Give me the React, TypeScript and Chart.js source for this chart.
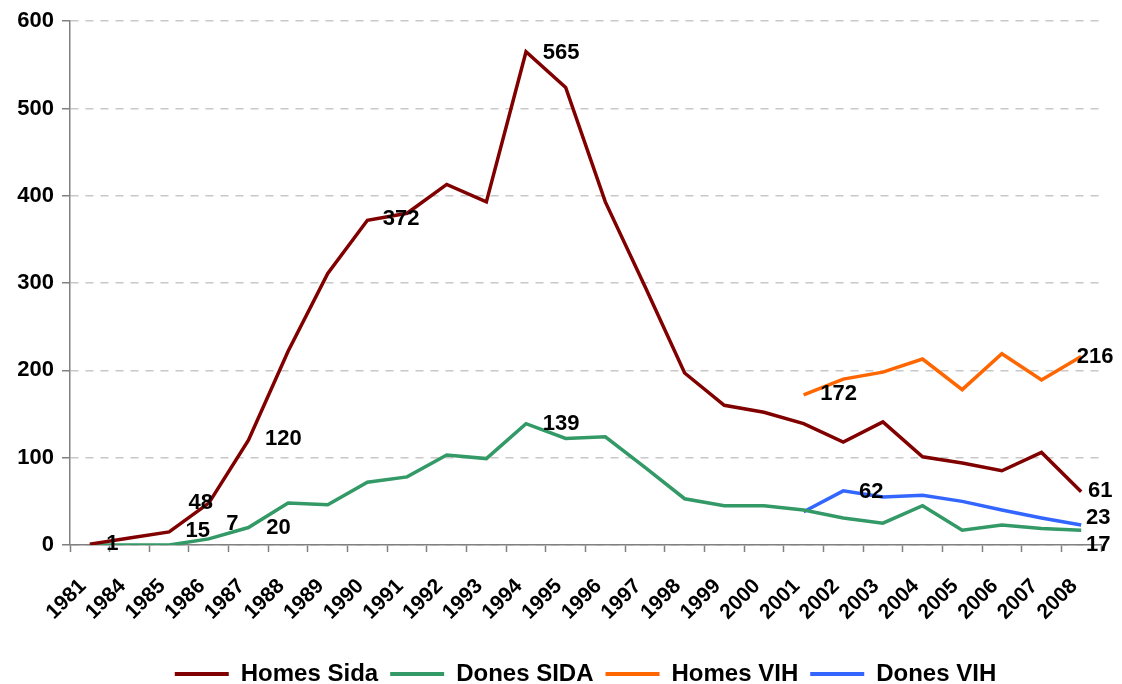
import React, { useEffect, useRef } from "react";
import { Chart, registerables } from "chart.js";

Chart.register(...registerables);

const years = [
  "1981", "1984", "1985", "1986", "1987", "1988", "1989", "1990", "1991", "1992",
  "1993", "1994", "1995", "1996", "1997", "1998", "1999", "2000", "2001", "2002",
  "2003", "2004", "2005", "2006", "2007", "2008",
];

const homesSida = [1, 8, 15, 48, 120, 222, 311, 372, 380, 413, 393, 565, 524, 393, 296, 197, 160, 152, 139, 118, 141, 101, 94, 85, 106, 61];
const donesSida = [0, 0, 0, 7, 20, 48, 46, 72, 78, 103, 99, 139, 122, 124, 89, 53, 45, 45, 40, 31, 25, 45, 17, 23, 19, 17];
const homesVih = [null, null, null, null, null, null, null, null, null, null, null, null, null, null, null, null, null, null, 172, 190, 198, 213, 178, 219, 189, 216];
const donesVih = [null, null, null, null, null, null, null, null, null, null, null, null, null, null, null, null, null, null, 38, 62, 55, 57, 50, 40, 31, 23];

const seriesNames = ["Homes Sida", "Dones SIDA", "Homes VIH", "Dones VIH"];
const seriesColors = ["#800000", "#339966", "#ff6600", "#3366ff"];
const yTicks = [0, 100, 200, 300, 400, 500, 600];

// value labels: series index, point index, text, and their offset from the point
const labelSeries = [0, 0, 1, 1, 1, 0, 0, 0, 1, 2, 3, 2, 0, 3, 1];
const labelIndex = [1, 3, 3, 4, 4, 4, 8, 11, 11, 18, 19, 25, 25, 25, 25];
const labelText = ["1", "48", "15", "7", "20", "120", "372", "565", "139", "172", "62", "216", "61", "23", "17"];
const labelDx = [-17, -8, -11, -16, 30, 35, -6, 35, 35, 35, 28, 14, 19, 17, 17];
const labelDy = [6, 0, -8, -4, 0, -1, 6, 1, 0, -1, 1, 1, -1, -7, 15];

const FONT = "'Liberation Sans', Arial, sans-serif";

const valueLabelPlugin = {
  id: "valueLabels",
  afterDatasetsDraw(chart: any) {
    const ctx = chart.ctx;
    ctx.save();
    ctx.font = `bold 22px ${FONT}`;
    ctx.fillStyle = "#000";
    ctx.textAlign = "center";
    ctx.textBaseline = "middle";
    for (let i = 0; i < labelText.length; i++) {
      const meta = chart.getDatasetMeta(labelSeries[i]);
      const pt = meta.data[labelIndex[i]];
      if (!pt) continue;
      ctx.fillText(labelText[i], pt.x + labelDx[i], pt.y + labelDy[i]);
    }
    ctx.restore();
  },
};

export default function App() {
  const ref = useRef<HTMLCanvasElement>(null);

  useEffect(() => {
    Chart.defaults.font.family = FONT;
    const seriesData = [homesSida, donesSida, homesVih, donesVih];
    const chart = new Chart(ref.current as HTMLCanvasElement, {
      type: "line",
      data: {
        labels: years,
        datasets: seriesData.map((d, i) => ({
          label: seriesNames[i],
          data: d as any,
          borderColor: seriesColors[i],
          backgroundColor: seriesColors[i],
          borderWidth: 3.5,
          pointRadius: 0,
          pointHoverRadius: 0,
          tension: 0,
          fill: false,
          spanGaps: false,
        })),
      },
      options: {
        animation: false,
        responsive: false,
        layout: { padding: { top: 20, right: 21, left: 0, bottom: 0 } },
        plugins: {
          tooltip: { enabled: false },
          legend: {
            position: "bottom",
            fullSize: false,
            labels: {
              boxWidth: 54,
              boxHeight: 4,
              padding: 12,
              color: "#000",
              font: { size: 24, weight: "bold", family: FONT },
              generateLabels: (c: any) =>
                (Chart.defaults.plugins.legend.labels as any)
                  .generateLabels(c)
                  .map((l: any) => ({ ...l, lineWidth: 0, fillStyle: l.strokeStyle })),
            },
          },
        },
        scales: {
          x: {
            offset: true,
            grid: {
              offset: true,
              drawOnChartArea: false,
              tickLength: 7,
              tickColor: "#808080",
              tickWidth: 1.5,
            },
            border: { color: "#808080", width: 1.5 },
            ticks: {
              autoSkip: false,
              maxRotation: 45,
              minRotation: 45,
              padding: 22,
              labelOffset: -7,
              color: "#000",
              font: { size: 21, weight: "bold", family: FONT },
            },
            afterFit: (s: any) => {
              s.height = 105;
            },
          },
          y: {
            min: 0,
            max: 600,
            afterBuildTicks: (s: any) => {
              s.ticks = yTicks.map((v) => ({ value: v }));
            },
            grid: {
              color: "#c8c8c8",
              lineWidth: 1.5,
              tickLength: 8,
              tickColor: "#808080",
              tickWidth: 1.5,
              tickBorderDash: [],
            },
            border: { dash: [8, 7], color: "#808080", width: 1.5 },
            ticks: {
              padding: 8,
              color: "#000",
              font: { size: 22, weight: "bold", family: FONT },
            },
            afterFit: (s: any) => {
              s.width = 70;
            },
          },
        },
      } as any,
      plugins: [valueLabelPlugin],
    });
    return () => chart.destroy();
  }, []);

  return (
    <div
      style={{
        position: "fixed",
        left: 0,
        top: 0,
        width: 1122,
        height: 684,
        overflow: "hidden",
        background: "#fff",
      }}
    >
      <canvas ref={ref} width={1122} height={696} style={{ display: "block" }} />
    </div>
  );
}
